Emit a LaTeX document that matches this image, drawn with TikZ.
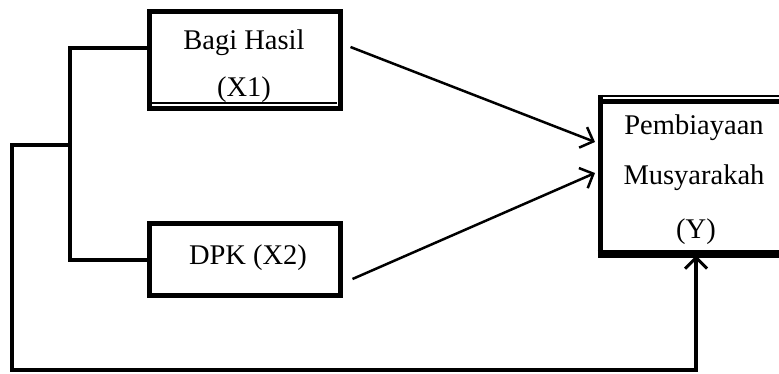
\documentclass[tikz,border=0pt]{standalone}
\usepackage{fontspec}
\setmainfont{Liberation Serif}
\usetikzlibrary{arrows.meta}
\begin{document}
\begin{tikzpicture}[x=1pt,y=1pt,
  box/.style={draw,line width=5pt,rectangle,inner sep=0pt},
  lbl/.style={font=\fontsize{28.5}{34}\selectfont,anchor=base,inner sep=0pt},
  link/.style={line width=4.5pt,line join=miter,line cap=rect},
  arr/.style={line width=2.5pt,-{Straight Barb[length=11pt,width=22pt,line width=2.5pt]}}]
\useasboundingbox (0,0) rectangle (779,-374);
\fill[white] (0,0) rectangle (779,-374);
% boxes
\node[box,minimum width=191pt,minimum height=97pt] (x1) at (244.5,-60.5) {};
\draw[line width=1.5pt] (152,-103) -- (337,-103);
\node[box,minimum width=191pt,minimum height=71pt] (x2) at (244.5,-259.5) {};
\begin{scope}
\clip (0,0) rectangle (779,-374);
\node[box,minimum width=200pt,minimum height=152pt] (y) at (700,-178) {};
\draw[line width=2pt] (598,-96) -- (790,-96);
\draw[line width=5pt] (600,-95) -- (600,-104);
\draw[line width=8pt] (597.5,-254) -- (790,-254);
\end{scope}
% texts
\node[lbl] (t1) at (244,-50) {Bagi Hasil};
\node[lbl] (t2) at (244,-97) {(X1)};
\node[lbl] (t3) at (248,-264) {DPK (X2)};
\node[lbl] (t4) at (694,-135) {Pembiayaan};
\node[lbl] (t5) at (694,-185) {Musyarakah};
\node[lbl] (t6) at (696,-238) {(Y)};
% connectors
\coordinate (j1) at (70,-48);
\coordinate (j2) at (70,-260);
\coordinate (f1) at (12,-145);
\coordinate (f2) at (12,-370);
\coordinate (f3) at (696,-370);
\draw[link] (x1.west |- j1) -- (j1) -- (j2) -- (x2.west |- j2);
\draw[link] (j1 |- f1) -- (f1) -- (f2) -- (f3);
\draw[line width=4.5pt,-{Straight Barb[length=11pt,width=22pt,line width=3pt]},shorten >=-1pt] (f3) -- (f3 |- y.south);
\draw[arr] ([shift={(8,13.5)}]x1.east) -- ([shift={(-2.5,36)}]y.west);
\draw[arr] ([shift={(10,-19.5)}]x2.east) -- ([shift={(-2.5,5)}]y.west);
\end{tikzpicture}
\end{document}
